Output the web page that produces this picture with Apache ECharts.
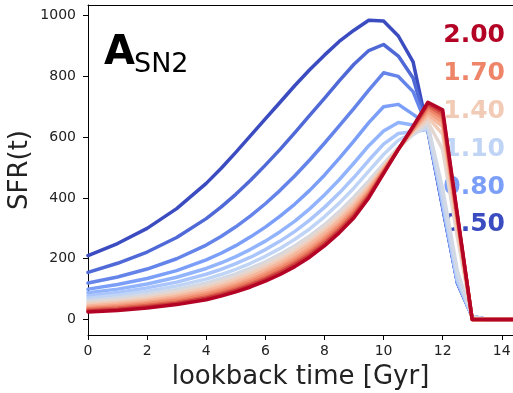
<!DOCTYPE html>
<html>
<head>
<meta charset="utf-8">
<script src="https://cdn.jsdelivr.net/npm/echarts@6/dist/echarts.min.js"></script>
<style>
html,body{margin:0;padding:0;background:#fff;}
#chart{width:513px;height:393px;}
</style>
</head>
<body>
<div id="chart"></div>
<script>
// lookback time sample points [Gyr]
var xs = [0,1,2,3,4,4.5,5,5.5,6,6.5,7,7.5,8,8.5,9,9.5,10,10.5,11,11.5,12,12.5,13,13.5,14.5];
// parameter values of the curves
var params = [0.5,0.6,0.7,0.8,0.9,1.0,1.1,1.2,1.3,1.4,1.5,1.6,1.7,1.8,1.9,2.0];
// SFR(t) curves
var s050 = [210,250,300,365,448, 497,550,605,660,715, 770,822,870,915,952, 985,982,933,848,620, 370,120,10,0,0];
var s060 = [155,185,222,270,332, 370,412,458,508,560, 615,672,728,785,840, 885,905,867,795,625, 370,120,10,0,0];
var s070 = [120,140,166,200,245, 273,305,341,381,425, 473,525,580,637,695, 755,812,800,750,630, 375,122,10,0,0];
var s080 = [100,115,135,161,196, 218,243,272,304,340, 380,425,475,530,588, 648,700,708,675,640, 380,125,10,0,0];
var s090 = [88,100,117,139,168, 186,207,231,258,289, 324,364,410,460,515, 572,620,648,640,630, 380,125,10,0,0];
var s100 = [78,89,104,123,149, 165,184,205,230,258, 290,327,369,416,468, 524,577,612,618,625, 385,128,10,0,0];
var s110 = [70,80,93,110,133, 148,165,185,208,234, 264,298,338,383,433, 488,543,590,615,630, 400,135,10,0,0];
var s120 = [62,71,83,99,120, 134,150,169,190,215, 243,275,312,355,403, 456,512,566,608,640, 430,160,8,0,0];
var s130 = [55,64,76,91,112, 126,142,161,183,208, 237,269,306,348,395, 448,505,562,615,650, 560,270,5,0,0];
var s140 = [49,57,68,83,103, 116,132,150,172,196, 224,256,293,335,383, 438,500,562,619,665, 610,300,0,0,0];
var s150 = [44,52,62,76,95, 108,123,141,162,186, 214,246,283,325,373, 430,496,561,623,675, 635,315,0,0,0];
var s160 = [39,46,56,69,87, 100,115,132,153,176, 203,235,272,314,363, 422,492,561,626,685, 650,325,0,0,0];
var s170 = [35,41,51,63,81, 93,108,125,145,168, 195,226,263,306,355, 416,488,561,629,695, 663,332,0,0,0];
var s180 = [31,37,46,57,74, 87,101,118,137,160, 187,218,255,298,347, 410,485,560,632,703, 673,337,0,0,0];
var s190 = [28,33,42,53,70, 82,96,112,132,154, 181,211,248,291,341, 405,483,560,634,710, 682,341,0,0,0];
var s200 = [25,30,38,49,65, 77,91,107,126,148, 174,205,242,285,335, 400,480,560,636,715, 690,345,0,0,0];
var curves = [s050,s060,s070,s080,s090,s100,s110,s120,s130,s140,s150,s160,s170,s180,s190,s200];
// legend-like labels
var labelVals = [2.00,1.70,1.40,1.10,0.80,0.50];
var yTicks = [0,200,400,600,800,1000];

// coolwarm colormap stops
var cw = ['#3b4cc0','#5977e3','#7b9ff9','#9ebeff','#c0d4f5','#dddcdc','#f2cbb7','#f7ac8e','#ee8468','#d65244','#b40426'];
function hex2rgb(h){return [parseInt(h.substr(1,2),16),parseInt(h.substr(3,2),16),parseInt(h.substr(5,2),16)];}
function coolwarm(t){
  t=Math.max(0,Math.min(1,t));
  var p=t*(cw.length-1), i=Math.min(Math.floor(p),cw.length-2), f=p-i;
  var a=hex2rgb(cw[i]), b=hex2rgb(cw[i+1]);
  var c=a.map(function(v,k){return Math.round(v+(b[k]-v)*f);});
  return 'rgb('+c.join(',')+')';
}
function colorOf(v){return coolwarm((v-0.5)/1.5);}

var series = curves.map(function(arr,i){
  return {
    type:'line', xAxisIndex:0, yAxisIndex:0,
    data: xs.map(function(x,j){return [x,arr[j]];}),
    showSymbol:false, symbol:'none', smooth:false,
    lineStyle:{width:3.5,color:colorOf(params[i]),cap:'round',join:'round'},
    animation:false
  };
});

var graphics = [
  {type:'text', left:104, top:34, style:{text:'A', font:'bold 40px "DejaVu Sans"', fill:'#000'}},
  {type:'text', left:134, top:51, style:{text:'SN2', font:'27px "DejaVu Sans"', fill:'#000'}}
];
var labelY = [34,72,110,148,186,223];
labelVals.forEach(function(v,i){
  graphics.push({type:'text', x:505, y:labelY[i]+1,
    style:{text:v.toFixed(2), font:'bold 25px "DejaVu Sans"', fill:colorOf(v), align:'right', verticalAlign:'middle'}});
});

var chart = echarts.init(document.getElementById('chart'), null, {renderer:'canvas'});
var axisText = {color:'#222', fontSize:14, fontFamily:'DejaVu Sans'};
chart.setOption({
  animation:false,
  backgroundColor:'#fff',
  grid:{left:88, right:0, top:5, bottom:58, containLabel:false, outerBoundsMode:'none'},
  xAxis:[{
    type:'value', min:0, max:14.38, interval:2, position:'bottom',
    name:'lookback time [Gyr]', nameLocation:'middle', nameGap:29, nameMoveOverlap:false,
    nameTextStyle:{fontSize:26, fontFamily:'DejaVu Sans', color:'#222'},
    axisLine:{show:true, onZero:false, lineStyle:{color:'#000', width:1}},
    axisTick:{show:true, length:5, lineStyle:{color:'#000'}},
    axisLabel:Object.assign({margin:9, showMaxLabel:false}, axisText),
    splitLine:{show:false}
  },{
    type:'value', min:0, max:14.38, position:'top',
    axisLine:{show:true, onZero:false, lineStyle:{color:'#000', width:1}},
    axisTick:{show:false}, axisLabel:{show:false}, splitLine:{show:false}
  }],
  yAxis:{
    type:'value', min:-51, max:1035,
    name:'SFR(t)', nameLocation:'middle', nameGap:55, nameMoveOverlap:false,
    nameTextStyle:{fontSize:26, fontFamily:'DejaVu Sans', color:'#222'},
    axisLine:{show:true, onZero:false, lineStyle:{color:'#000', width:1}},
    axisTick:{show:true, length:5, customValues:yTicks, lineStyle:{color:'#000'}},
    axisLabel:Object.assign({margin:12, customValues:yTicks, formatter:function(v){return String(v);}}, axisText),
    splitLine:{show:false}
  },
  graphic:graphics,
  series:series
});
</script>
</body>
</html>
